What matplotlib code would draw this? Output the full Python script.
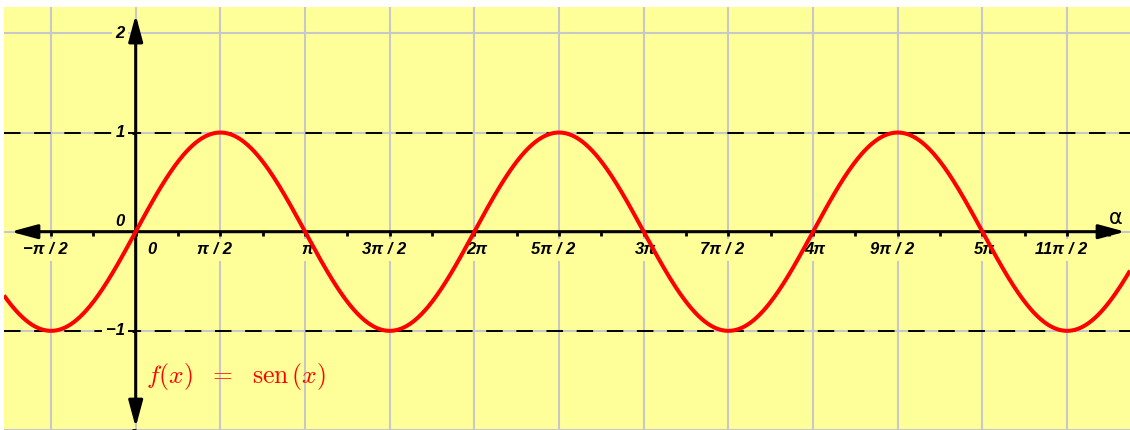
import numpy as np
import matplotlib
matplotlib.use('Agg')
import matplotlib.pyplot as plt
from matplotlib.transforms import offset_copy
from matplotlib.patches import FancyArrowPatch

# tick positions (multiples of pi/2) and their labels
half_pi_steps = [-1, 0, 1, 2, 3, 4, 5, 6, 7, 8, 9, 10, 11]
x_labels = ['−π / 2', '0', 'π / 2', 'π', '3π / 2', '2π', '5π / 2', '3π',
            '7π / 2', '4π', '9π / 2', '5π', '11π / 2']
y_ticks = [-1, 1, 2]
y_labels = ['−1', '1', '2']

x_min, x_max = -2.443, 18.446
y_min, y_max = -2.0, 2.266

bg = '#ffff99'
grid_col = '#c8c8c8'
label_font = dict(family='Liberation Sans', weight='bold', style='italic', size=12)

fig = plt.figure(figsize=(11.3, 4.3), dpi=100)
ax = fig.add_axes([4 / 1130, 0, 1126 / 1130, 423 / 430])
ax.set_facecolor(bg)
ax.set_xlim(x_min, x_max)
ax.set_ylim(y_min, y_max)

xt = np.array(half_pi_steps) * np.pi / 2
minor = (np.arange(-1, 12) + 0.5) * np.pi / 2

# spines sit on the axes through the origin, drawn as arrows below
for s in ax.spines.values():
    s.set_visible(False)
ax.spines['bottom'].set_position(('data', 0))
ax.spines['left'].set_position(('data', 0))
ax.set_xticks(xt)
ax.set_xticks(minor, minor=True)
ax.set_yticks([-2, -1, 0, 1, 2])
ax.tick_params(axis='x', which='both', direction='out', length=3, width=2,
               color='black', labelbottom=False)
ax.tick_params(axis='y', which='both', direction='out', length=3, width=2,
               color='black', labelleft=False)
ax.set_axisbelow(True)
ax.grid(True, color=grid_col, lw=1.5)

# dashed reference lines at +-1
for lvl in (-1, 1):
    ax.axhline(lvl, color='black', lw=1.4, ls=(0, (8.5, 7)), zorder=2)

# axes with arrow heads
x_ax = FancyArrowPatch((-2.369, 0), (18.409, 0),
                       arrowstyle='<|-|>,head_length=1.0,head_width=0.27',
                       mutation_scale=16, lw=2.2, color='black', zorder=4)
y_ax = FancyArrowPatch((0, -2.0), (0, 2.215),
                       arrowstyle='<|-|>,head_length=1.0,head_width=0.27',
                       mutation_scale=16, lw=2.2, color='black', zorder=4)
ax.add_patch(x_ax)
ax.add_patch(y_ax)

box = dict(facecolor=bg, edgecolor='none', pad=2.5)

# x tick labels
for pos, lab in zip(xt, x_labels):
    if lab == '0':
        dx = 16
    elif '/' in lab:
        dx = -6
    else:
        dx = 2
    tr = offset_copy(ax.transData, fig=fig, x=dx, y=-18, units='dots')
    ax.text(pos, 0, lab, transform=tr, ha='center', va='center',
            bbox=box, zorder=3, **label_font)

# y tick labels
for pos, lab in zip(y_ticks, y_labels):
    tr = offset_copy(ax.transData, fig=fig, x=-11, y=0, units='dots')
    ax.text(0, pos, lab, transform=tr, ha='right', va='center',
            bbox=box, zorder=3, **label_font)
tr0 = offset_copy(ax.transData, fig=fig, x=-11, y=10, units='dots')
ax.text(0, 0, '0', transform=tr0, ha='right', va='center', zorder=3, **label_font)

# the sine curve
x = np.linspace(x_min, x_max, 2000)
ax.plot(x, np.sin(x), color='red', lw=2.9, zorder=5, solid_capstyle='butt')

ax.text(18.19, 0.14, 'α', fontsize=15, ha='center', va='center', zorder=5)

plt.rcParams['mathtext.fontset'] = 'cm'
ax.text(0.19, -1.46, r'$f(x)\ \ =\ \ \mathrm{sen}\,(x)$', color='red',
        fontsize=18.5, ha='left', va='center', zorder=5)

fig.savefig('out.png', dpi=100, facecolor='white')
